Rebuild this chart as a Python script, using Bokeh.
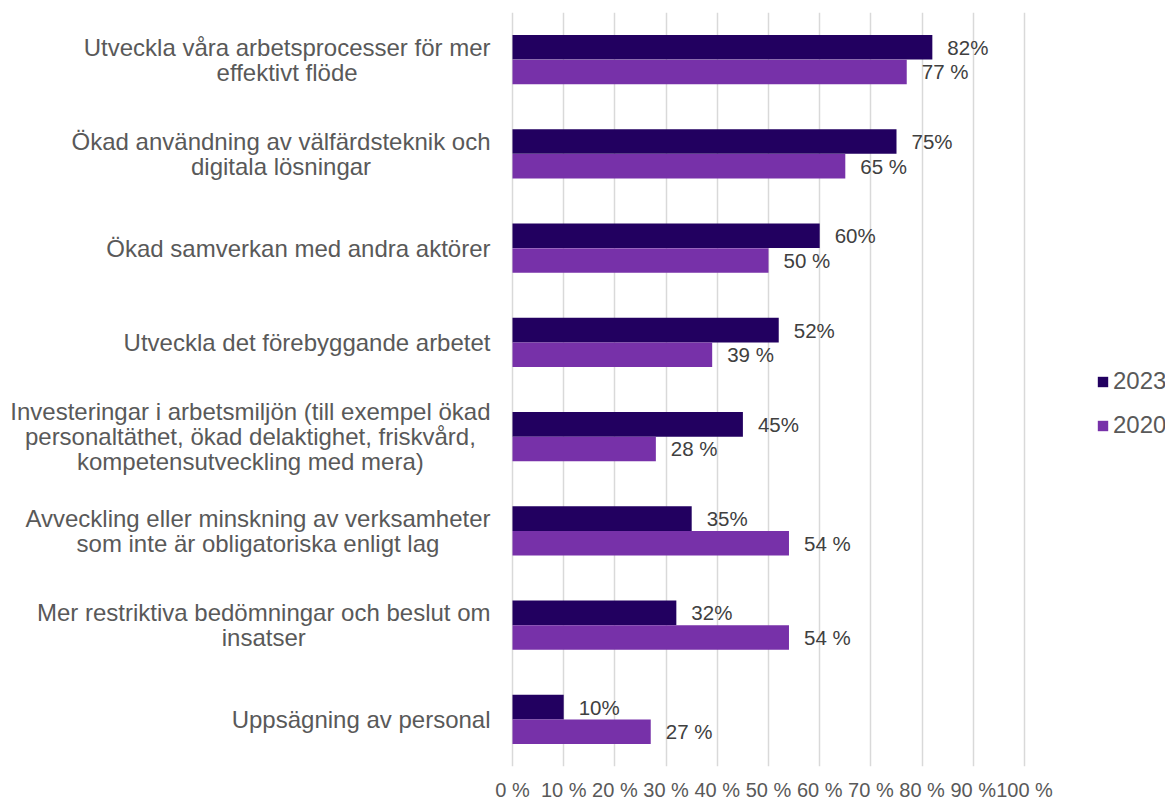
from bokeh.plotting import figure
from bokeh.models import (ColumnDataSource, FactorRange, Range1d, FixedTicker,
                          Legend, LegendItem)
from bokeh.transform import dodge
from bokeh.core.properties import value
from bokeh.embed import file_html
from bokeh.resources import INLINE

# ---------------- data ----------------
categories = [
    "Utveckla våra arbetsprocesser för mer\neffektivt flöde",
    "Ökad användning av välfärdsteknik och\ndigitala lösningar",
    "Ökad samverkan med andra aktörer",
    "Utveckla det förebyggande arbetet",
    "Investeringar i arbetsmiljön (till exempel ökad\npersonaltäthet, ökad delaktighet, friskvård,\nkompetensutveckling med mera)",
    "Avveckling eller minskning av verksamheter\nsom inte är obligatoriska enligt lag",
    "Mer restriktiva bedömningar och beslut om\ninsatser",
    "Uppsägning av personal",
]
values_2023 = [82, 75, 60, 52, 45, 35, 32, 10]
values_2020 = [77, 65, 50, 39, 28, 54, 54, 27]
labels_2023 = ["82%", "75%", "60%", "52%", "45%", "35%", "32%", "10%"]
labels_2020 = ["77 %", "65 %", "50 %", "39 %", "28 %", "54 %", "54 %", "27 %"]
x_ticks = [0, 10, 20, 30, 40, 50, 60, 70, 80, 90, 100]
x_tick_labels = ["0 %", "10 %", "20 %", "30 %", "40 %", "50 %", "60 %",
                 "70 %", "80 %", "90 %", "100 %"]
series_names = ["2023", "2020"]

# ---------------- style ----------------
C2023 = "#220060"
C2020 = "#7731A9"
TXT = "#595959"
FONT = value("Liberation Sans")

source = ColumnDataSource(dict(cat=categories, v2023=values_2023, v2020=values_2020,
                               l2023=labels_2023, l2020=labels_2020,
                               zero=[0] * len(categories)))

W, H = 1165, 803
X0 = 512          # screen position of 0 %
PX100 = 512.0     # pixels per 100 %
factors = list(reversed(categories))
p = figure(width=W, height=H, output_backend="svg", toolbar_location=None,
           y_range=FactorRange(factors=factors),
           x_range=Range1d(-100 * X0 / PX100, 100 * (W - X0) / PX100),
           min_border_left=0, min_border_right=0, min_border_top=12,
           min_border_bottom=0)
p.outline_line_color = None
p.background_fill_color = "white"
p.border_fill_color = "white"

# grid
p.xgrid.ticker = FixedTicker(ticks=x_ticks)
p.xgrid.grid_line_color = "#d9d9d9"
p.xgrid.grid_line_width = 1.5
p.ygrid.grid_line_color = None

# axes
p.yaxis.visible = False
p.xaxis.ticker = FixedTicker(ticks=x_ticks)
p.xaxis.major_label_overrides = {t: l for t, l in zip(x_ticks, x_tick_labels)}
p.xaxis.axis_line_color = None
p.xaxis.major_tick_line_color = None
p.xaxis.minor_tick_line_color = None
p.xaxis.major_tick_out = 0
p.xaxis.major_label_standoff = 12
p.xaxis.major_label_text_font = "Liberation Sans"
p.xaxis.major_label_text_font_size = "20px"
p.xaxis.major_label_text_color = TXT

OFF = 0.13
BH = 0.26
r1 = p.hbar(y=dodge("cat", OFF, range=p.y_range), left=0, right="v2023", height=BH,
            source=source, fill_color=C2023, line_color=None)
r2 = p.hbar(y=dodge("cat", -OFF, range=p.y_range), left=0, right="v2020", height=BH,
            source=source, fill_color=C2020, line_color=None)

p.text(x="v2023", y=dodge("cat", OFF, range=p.y_range), text="l2023", source=source,
       x_offset=15, text_align="left", text_baseline="middle", text_font=FONT,
       text_font_size="20.5px", text_color="#404040")
p.text(x="v2020", y=dodge("cat", -OFF, range=p.y_range), text="l2020", source=source,
       x_offset=15, text_align="left", text_baseline="middle", text_font=FONT,
       text_font_size="20.5px", text_color="#404040")

# category labels: right-aligned block, lines centred within the block
p.text(x="zero", y="cat", text="cat", source=source, x_offset=-22,
       anchor="center_right", text_align="center", text_baseline="middle",
       text_font=FONT, text_font_size="24px", text_color=TXT,
       text_line_height=0.92)

legend = Legend(items=[LegendItem(label=series_names[0], renderers=[r1]),
                       LegendItem(label=series_names[1], renderers=[r2])],
                location=(1096, 327), orientation="vertical",
                glyph_width=13, glyph_height=13, label_standoff=4, spacing=16,
                padding=0, margin=0, border_line_color=None,
                background_fill_alpha=0, label_text_font="Liberation Sans",
                label_text_font_size="24px", label_text_color=TXT,
                label_height=20)
p.add_layout(legend)

open("out.html", "w").write(file_html(p, INLINE))
